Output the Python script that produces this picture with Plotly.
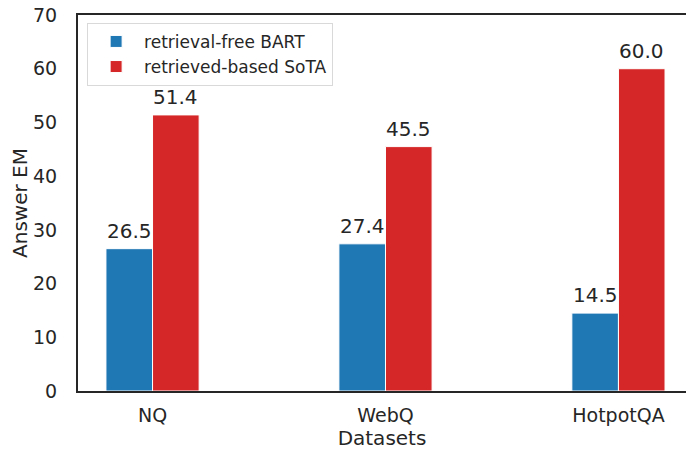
import plotly.graph_objects as go

datasets = ["NQ", "WebQ", "HotpotQA"]
bart_free = [26.5, 27.4, 14.5]
sota_retrieved = [51.4, 45.5, 60.0]
series_names = ["retrieval-free BART", "retrieved-based SoTA"]
y_ticks = [0, 10, 20, 30, 40, 50, 60, 70]

BLUE = "#1f77b4"
RED = "#d62728"
INK = "#262626"
FONT = "DejaVu Sans"

xpos = list(range(len(datasets)))

fig = go.Figure()
fig.add_trace(go.Bar(x=xpos, y=bart_free, name=series_names[0],
                     marker=dict(color=BLUE, line=dict(color="white", width=1))))
fig.add_trace(go.Bar(x=xpos, y=sota_retrieved, name=series_names[1],
                     marker=dict(color=RED, line=dict(color="white", width=1))))

for vals, off in ((bart_free, -0.1), (sota_retrieved, 0.1)):
    for i, v in enumerate(vals):
        fig.add_annotation(x=i + off, y=v, text=f"{v:.1f}", showarrow=False,
                           xref="x", yref="y", yanchor="bottom", yshift=4,
                           font=dict(family=FONT, size=20, color=INK))

fig.update_layout(
    width=686, height=450,
    margin=dict(l=78, r=0, t=15, b=59),
    paper_bgcolor="white", plot_bgcolor="white",
    barmode="group", bargap=0.6, bargroupgap=0,
    font=dict(family=FONT, size=19, color=INK),
    showlegend=True,
    legend=dict(x=0.015, y=0.979, xanchor="left", yanchor="top",
                bgcolor="white", bordercolor="#d9d9d9", borderwidth=1,
                font=dict(family=FONT, size=17, color=INK),
                tracegroupgap=0, itemwidth=46),
)
fig.update_xaxes(
    range=[-0.32, 2.29], tickvals=xpos, ticktext=datasets, automargin=False,
    showgrid=False, zeroline=False, showline=True, linecolor=INK, linewidth=2,
    mirror=True, ticks="", ticklabelstandoff=6,
    tickfont=dict(family=FONT, size=19, color=INK),
    title=dict(text="Datasets", font=dict(family=FONT, size=20, color=INK), standoff=2),
)
fig.update_yaxes(
    range=[0, 70], tickvals=y_ticks, automargin=False,
    showgrid=False, zeroline=False, showline=True, linecolor=INK, linewidth=2,
    mirror=True, ticks="", ticklabelstandoff=15,
    tickfont=dict(family=FONT, size=19, color=INK),
    title=dict(text="Answer EM", font=dict(family=FONT, size=20, color=INK), standoff=0),
)

fig.write_html("out.html", config={"displayModeBar": False},
               post_script="document.body.style.margin='0';")
